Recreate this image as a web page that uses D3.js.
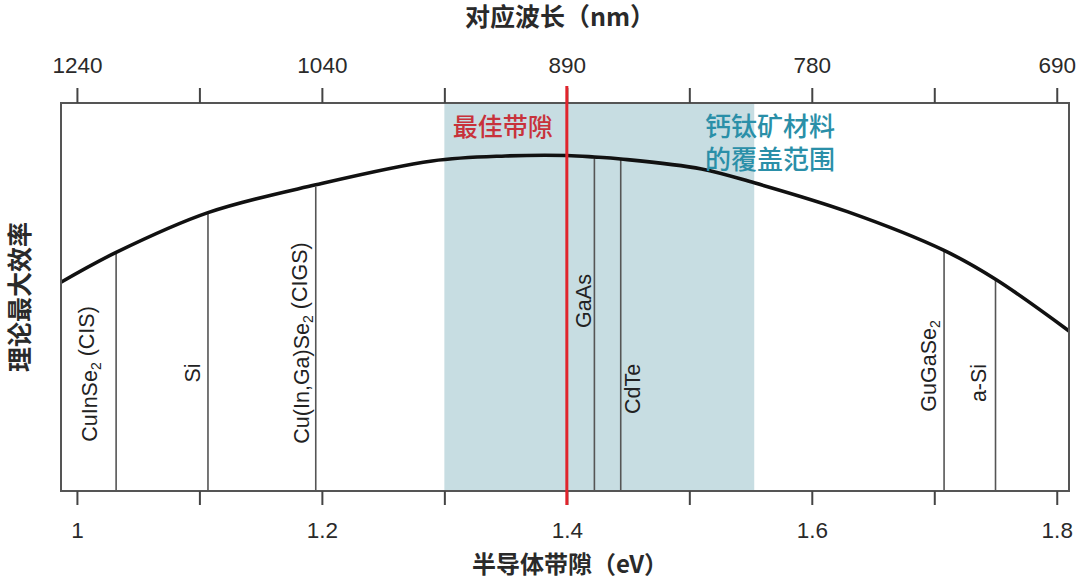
<!DOCTYPE html>
<html>
<head>
<meta charset="utf-8">
<script src="https://cdn.jsdelivr.net/npm/d3@7"></script>
<style>
  html, body { margin: 0; padding: 0; background: #fff; }
  svg { display: block; }
</style>
</head>
<body>
<svg id="chart" width="1080" height="582"></svg>
<script>
// ---------- data ----------
const curveEv  = [0.987, 1.032, 1.107, 1.195, 1.29, 1.35, 1.40, 1.4225, 1.444, 1.51, 1.553, 1.629, 1.708, 1.75, 1.81];
const curveEff = [21.0, 24.0, 28.0, 30.8, 33.2, 33.7, 33.75, 33.6, 33.4, 32.4, 31.0, 28.1, 24.2, 21.3, 16.1];

const materialNames = ["CuInSe2 (CIS)", "Si", "Cu(In,Ga)Se2 (CIGS)", "GaAs", "CdTe", "GuGaSe2", "a-Si"];
const materialEv    = [1.032, 1.107, 1.195, 1.4225, 1.444, 1.708, 1.75];
const materialEff   = [24.0, 28.0, 30.6, 33.6, 33.4, 24.2, 21.3];

const bottomTicks      = [1.0, 1.1, 1.2, 1.3, 1.4, 1.5, 1.6, 1.7, 1.8];
const bottomTickLabels = ["1", "", "1.2", "", "1.4", "", "1.6", "", "1.8"];
const topTickLabels    = ["1240", "", "1040", "", "890", "", "780", "", "690"];

const optimalGap   = 1.40;
const perovskiteRange = [1.30, 1.553];

const xTitle = "半导体带隙（eV）";
const topTitle = "对应波长（nm）";
const yTitle = "理论最大效率";
const optimalLabel = "最佳带隙";
const perovskiteLabel = ["钙钛矿材料", "的覆盖范围"];

// ---------- layout (presentation only) ----------
const frame = { left: 61, right: 1069, top: 103, bottom: 491 };
// label horizontal offset from line, label vertical centre
const labelDx = [-27, -16, -14, -11, 12, -16, -17];
const labelCy = [374, 373, 343, 301, 389, 366, 383];

const svg = d3.select("#chart");
const latin = "'Liberation Sans', Arial, Helvetica, sans-serif";
const cjk = "'Noto Sans CJK SC', 'Noto Sans', sans-serif";

const x = d3.scaleLinear().domain([0.987, 1.81]).range([frame.left, frame.right]);
const y = d3.scaleLinear().domain([0, 34]).range([frame.bottom, 153]);

// perovskite band
svg.append("rect")
  .attr("x", x(perovskiteRange[0]))
  .attr("y", frame.top)
  .attr("width", x(perovskiteRange[1]) - x(perovskiteRange[0]))
  .attr("height", frame.bottom - frame.top)
  .attr("fill", "#c7dde2");

// material lines
const mats = materialNames.map((n, i) => ({ name: n, ev: materialEv[i], eff: materialEff[i], dx: labelDx[i], cy: labelCy[i] }));
svg.append("g").selectAll("line").data(mats).join("line")
  .attr("x1", d => x(d.ev)).attr("x2", d => x(d.ev))
  .attr("y1", d => y(d.eff)).attr("y2", frame.bottom)
  .attr("stroke", "#555").attr("stroke-width", 1.6);

// material labels (rotated)
const lab = svg.append("g").selectAll("text").data(mats).join("text")
  .attr("transform", d => `translate(${x(d.ev) + d.dx},${d.cy}) rotate(-90)`)
  .attr("text-anchor", "middle")
  .attr("dy", "0.35em")
  .attr("font-family", latin)
  .attr("font-size", 21.5)
  .attr("fill", "#222");
lab.each(function(d) {
  const t = d3.select(this);
  const m = d.name.match(/^(.*?Se)2(.*)$/);
  if (m) {
    t.append("tspan").text(m[1]);
    t.append("tspan").attr("dy", "0.3em").attr("font-size", 14).text("2");
    t.append("tspan").attr("dy", "-0.3em").text(m[2]);
  } else {
    t.text(d.name);
  }
});

// curve
const pts = curveEv.map((e, i) => [e, curveEff[i]]);
svg.append("path")
  .datum(pts)
  .attr("d", d3.line().x(d => x(d[0])).y(d => y(d[1])).curve(d3.curveCatmullRom.alpha(0.5)))
  .attr("fill", "none")
  .attr("stroke", "#111")
  .attr("stroke-width", 3.6);

// frame
svg.append("rect")
  .attr("x", frame.left).attr("y", frame.top)
  .attr("width", frame.right - frame.left).attr("height", frame.bottom - frame.top)
  .attr("fill", "none").attr("stroke", "#555").attr("stroke-width", 2);

// bottom axis
const bAxis = d3.axisBottom(x).tickValues(bottomTicks)
  .tickFormat((d, i) => bottomTickLabels[i]).tickSize(14).tickSizeOuter(0).tickPadding(17);
const gb = svg.append("g").attr("transform", `translate(0,${frame.bottom})`).call(bAxis);
gb.select(".domain").remove();
gb.selectAll(".tick line").attr("stroke", "#444").attr("stroke-width", 2);
gb.selectAll(".tick text").attr("font-family", latin).attr("font-size", 22.5).attr("fill", "#2a2a2a");

// top axis
const tAxis = d3.axisTop(x).tickValues(bottomTicks)
  .tickFormat((d, i) => topTickLabels[i]).tickSize(15).tickSizeOuter(0).tickPadding(15);
const gt = svg.append("g").attr("transform", `translate(0,${frame.top})`).call(tAxis);
gt.select(".domain").remove();
gt.selectAll(".tick line").attr("stroke", "#444").attr("stroke-width", 2);
gt.selectAll(".tick text").attr("font-family", latin).attr("font-size", 22.5).attr("fill", "#2a2a2a");

// optimal band gap line
svg.append("line")
  .attr("x1", x(optimalGap)).attr("x2", x(optimalGap))
  .attr("y1", 86).attr("y2", 505)
  .attr("stroke", "#e0242c").attr("stroke-width", 3);

svg.append("text")
  .attr("x", x(optimalGap) - 14).attr("y", 127).attr("dy", "0.35em")
  .attr("text-anchor", "end")
  .attr("font-family", cjk).attr("font-size", 25).attr("font-weight", 500)
  .attr("fill", "#c8323b").text(optimalLabel);

svg.append("g").selectAll("text").data(perovskiteLabel).join("text")
  .attr("x", 705).attr("y", (d, i) => 127 + i * 33).attr("dy", "0.35em")
  .attr("font-family", cjk).attr("font-size", 26).attr("font-weight", 500)
  .attr("fill", "#2a8fa8").text(d => d);

// titles
svg.append("text").attr("x", 560).attr("y", 17).attr("dy", "0.35em")
  .attr("text-anchor", "middle").attr("font-family", cjk).attr("font-size", 25).attr("font-weight", 700)
  .attr("fill", "#2a2a2a").text(topTitle);
svg.append("text").attr("x", 570).attr("y", 565).attr("dy", "0.35em")
  .attr("text-anchor", "middle").attr("font-family", cjk).attr("font-size", 24).attr("font-weight", 700)
  .attr("fill", "#2a2a2a").text(xTitle);
svg.append("text").attr("transform", "translate(20,297) rotate(-90)").attr("dy", "0.35em")
  .attr("text-anchor", "middle").attr("font-family", cjk).attr("font-size", 25).attr("font-weight", 700)
  .attr("fill", "#2a2a2a").text(yTitle);
</script>
</body>
</html>
